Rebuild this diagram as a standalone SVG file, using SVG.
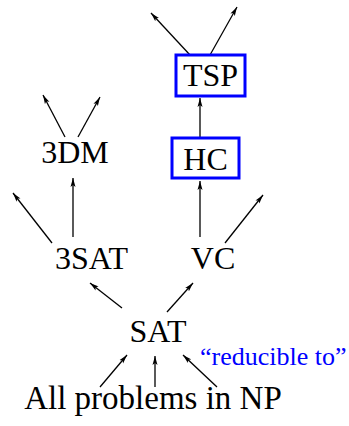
<svg xmlns="http://www.w3.org/2000/svg" width="349" height="426" viewBox="0 0 349 426">
<style>
.t{font-family:"Liberation Serif","Times New Roman",serif;font-size:32px;fill:#000}
.lab{font-family:"Liberation Serif","Times New Roman",serif;font-size:26px;fill:#0000ff}
.box{fill:none;stroke:#0000ff;stroke-width:3}
.e{stroke:#000;stroke-width:1.3;fill:none;marker-end:url(#ah)}
</style>
<defs>
<marker id="ah" markerWidth="10" markerHeight="6" refX="9" refY="3" orient="auto" markerUnits="userSpaceOnUse">
<path d="M0,0.5 L9,3 L0,5.5 L2,3 Z" fill="#000"/>
</marker>
</defs>
<rect width="349" height="426" fill="#fff"/>
<g id="connectors">
<line class="e" x1="190" y1="55" x2="151" y2="13"/>
<line class="e" x1="210" y1="55" x2="237" y2="7"/>
<line class="e" x1="200" y1="137" x2="200" y2="98"/>
<line class="e" x1="200" y1="237" x2="200" y2="181"/>
<line class="e" x1="225" y1="243" x2="263" y2="195"/>
<line class="e" x1="65" y1="137" x2="43" y2="95"/>
<line class="e" x1="78" y1="137" x2="100" y2="97"/>
<line class="e" x1="73" y1="237" x2="73" y2="178"/>
<line class="e" x1="52" y1="243" x2="13" y2="193"/>
<line class="e" x1="122" y1="308" x2="90" y2="283"/>
<line class="e" x1="167" y1="312" x2="193" y2="283"/>
<line class="e" x1="100" y1="387" x2="127" y2="355"/>
<line class="e" x1="155" y1="387" x2="155" y2="356"/>
<line class="e" x1="217" y1="387" x2="183" y2="355"/>
</g>
<g id="TSP">
<rect class="box" x="176" y="55" width="69" height="41"/>
<text class="t" x="210.5" y="86" text-anchor="middle">TSP</text>
</g>
<g id="HC">
<rect class="box" x="172" y="138" width="67" height="40"/>
<text class="t" x="205.5" y="170" text-anchor="middle">HC</text>
</g>
<g id="3DM">
<text class="t" x="75" y="163" text-anchor="middle">3DM</text>
</g>
<g id="3SAT">
<text class="t" x="91.5" y="269" text-anchor="middle">3SAT</text>
</g>
<g id="VC">
<text class="t" x="213" y="269" text-anchor="middle">VC</text>
</g>
<g id="SAT">
<text class="t" x="158" y="342" text-anchor="middle">SAT</text>
</g>
<g id="NP">
<text class="t" x="153" y="409" text-anchor="middle" style="font-size:33px">All problems in NP</text>
</g>
<g id="label">
<text class="lab" x="200" y="365">“reducible to”</text>
</g>
</svg>
